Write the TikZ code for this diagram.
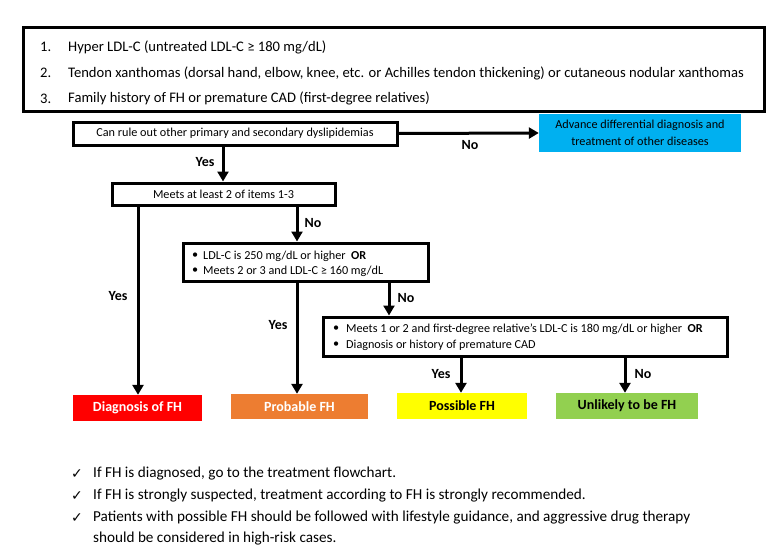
\documentclass[tikz,border=0pt]{standalone}
\usepackage{fontspec}
\setmainfont{Carlito}
\newfontfamily\symfont{DejaVu Sans}
\usetikzlibrary{arrows.meta}
\definecolor{fhblue}{HTML}{00B0F0}
\definecolor{fhred}{HTML}{FF0000}
\definecolor{fhorange}{HTML}{ED7D31}
\definecolor{fhyellow}{HTML}{FFFF00}
\definecolor{fhgreen}{HTML}{92D050}
\tikzset{
  box/.style={draw, line width=3pt, inner sep=0pt, font=\fontsize{12.2}{14}\selectfont},
  result/.style={inner sep=0pt, font=\bfseries\fontsize{14}{16}\selectfont},
  arr/.style={line width=3pt, -{Triangle[width=11pt,length=10pt]}},
  lbl/.style={font=\bfseries\fontsize{14}{16}\selectfont, inner sep=0pt},
  crit/.style={anchor=west, inner sep=0pt, font=\fontsize{14.6}{17}\selectfont},
  bul/.style={anchor=west, inner sep=0pt, font=\fontsize{12.2}{14}\selectfont},
  note/.style={anchor=west, inner sep=0pt, font=\fontsize{15.2}{17}\selectfont},
  chk/.style={anchor=west, inner sep=0pt, font=\symfont\fontsize{14}{16}\selectfont},
}
\begin{document}
\begin{tikzpicture}[x=1pt,y=-1pt]
\useasboundingbox (0,0) rectangle (779,551);
% criteria box
\node[box, minimum width=741pt, minimum height=83pt] (critbox) at (393.5,69.5) {};
\node[crit] (n1) at (40,47) {1.};
\node[crit] (c1) at (68,47) {Hyper LDL-C (untreated LDL-C ≥ 180 mg/dL)};
\node[crit] (n2) at (40,73) {2.};
\node[crit] (c2) at (68,73) {Tendon xanthomas (dorsal hand, elbow, knee, etc. or Achilles tendon thickening) or cutaneous nodular xanthomas};
\node[crit] (n3) at (40,98.5) {3.};
\node[crit] (c3) at (68,98.5) {Family history of FH or premature CAD (first-degree relatives)};
% flow boxes
\node[box, minimum width=324pt, minimum height=23pt] (rule) at (235,133.5) {Can rule out other primary and secondary dyslipidemias};
\node[fill=fhblue, inner sep=0pt, minimum width=202pt, minimum height=38pt, align=center, font=\fontsize{12.2}{16.5}\selectfont] (other) at (640,133) {Advance differential diagnosis and\\treatment of other diseases};
\node[box, minimum width=223pt, minimum height=22pt] (meets) at (223.5,194) {Meets at least 2 of items 1-3};
\node[box, minimum width=245pt, minimum height=38pt] (ldl) at (305.5,262) {};
\node[bul] (b41) at (192,256) {•};
\node[bul] (t41) at (203,256) {LDL-C is 250 mg/dL or higher\ \ \textbf{OR}};
\node[bul] (b42) at (192,271) {•};
\node[bul] (t42) at (203,271) {Meets 2 or 3 and LDL-C ≥ 160 mg/dL};
\node[box, minimum width=404pt, minimum height=39pt] (rel) at (525,336.5) {};
\node[bul] (b51) at (333,329) {•};
\node[bul] (t51) at (346,329) {Meets 1 or 2 and first-degree relative's LDL-C is 180 mg/dL or higher\ \ \textbf{OR}};
\node[bul] (b52) at (333,345) {•};
\node[bul] (t52) at (346,345) {Diagnosis or history of premature CAD};
% results
\node[result, fill=fhred, text=white, minimum width=129pt, minimum height=26pt] (diag) at (137.5,408) {Diagnosis of FH};
\node[result, fill=fhorange, text=white, minimum width=137pt, minimum height=25pt] (prob) at (299.5,406.5) {Probable FH};
\node[result, fill=fhyellow, minimum width=130pt, minimum height=26pt] (poss) at (462,406) {Possible FH};
\node[result, fill=fhgreen, minimum width=142pt, minimum height=26pt] (unl) at (627,406) {Unlikely to be FH};
% x positions
\coordinate (xyes1) at (223,0);
\coordinate (xdiag) at (138,0);
\coordinate (xprob) at (297,0);
\coordinate (xrel) at (389,0);
\coordinate (xposs) at (461,0);
\coordinate (xunl) at (625,0);
% connectors
\draw[arr] (rule.east) -- (other.west);
\node[lbl] (lno1) at (470,145) {No};
\draw[arr] (rule.south -| xyes1) -- (meets.north -| xyes1);
\node[lbl] (lyes1) at (205,162) {Yes};
\draw[arr] (meets.south -| xdiag) -- (diag.north -| xdiag);
\node[lbl] (lyes2) at (118,296) {Yes};
\draw[arr] (meets.south -| xprob) -- (ldl.north -| xprob);
\node[lbl] (lno2) at (313,223) {No};
\draw[arr] (ldl.south -| xprob) -- (prob.north -| xprob);
\node[lbl] (lyes3) at (278,325) {Yes};
\draw[arr] (ldl.south -| xrel) -- (rel.north -| xrel);
\node[lbl] (lno3) at (406,298) {No};
\draw[arr] (rel.south -| xposs) -- (poss.north -| xposs);
\node[lbl] (lyes4) at (441,374) {Yes};
\draw[arr] (rel.south -| xunl) -- (unl.north -| xunl);
\node[lbl] (lno4) at (643,374) {No};
% notes
\node[chk] (k1) at (71,474) {✓};
\node[note] (m1) at (93,474) {If FH is diagnosed, go to the treatment flowchart.};
\node[chk] (k2) at (71,496) {✓};
\node[note] (m2) at (93,496) {If FH is strongly suspected, treatment according to FH is strongly recommended.};
\node[chk] (k3) at (71,518) {✓};
\node[note] (m3) at (93,518) {Patients with possible FH should be followed with lifestyle guidance, and aggressive drug therapy};
\node[note] (m4) at (93,539) {should be considered in high-risk cases.};
\end{tikzpicture}
\end{document}
